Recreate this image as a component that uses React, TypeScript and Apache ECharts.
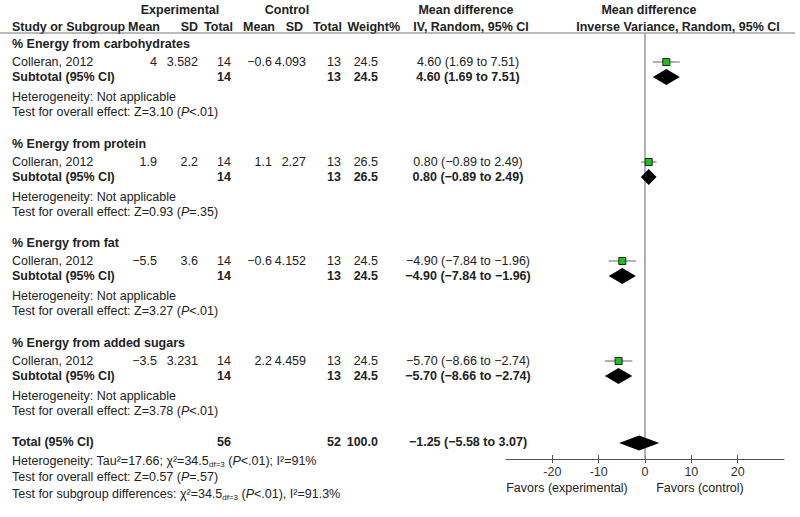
import React, { useEffect, useRef } from 'react';
import * as echarts from 'echarts';

// ---------- data ----------
const groupNames = [
  '% Energy from carbohydrates',
  '% Energy from protein',
  '% Energy from fat',
  '% Energy from added sugars',
];
const studyNames = ['Colleran, 2012', 'Colleran, 2012', 'Colleran, 2012', 'Colleran, 2012'];
const expMean = [4, 1.9, -5.5, -3.5];
const expSD = [3.582, 2.2, 3.6, 3.231];
const expN = [14, 14, 14, 14];
const ctlMean = [-0.6, 1.1, -0.6, 2.2];
const ctlSD = [4.093, 2.27, 4.152, 4.459];
const ctlN = [13, 13, 13, 13];
const weights = [24.5, 26.5, 24.5, 24.5];
const md = [4.6, 0.8, -4.9, -5.7];
const ciLow = [1.69, -0.89, -7.84, -8.66];
const ciHigh = [7.51, 2.49, -1.96, -2.74];
const zValues = [3.1, 0.93, 3.27, 3.78];
const pValues = ['<.01', '=.35', '<.01', '<.01'];

const totalExpN = 56;
const totalCtlN = 52;
const totalWeight = 100.0;
const totalMd = -1.25;
const totalLow = -5.58;
const totalHigh = 3.07;
const tau2 = 17.66;
const chi2 = 34.5;
const df = 3;
const hetP = '<.01';
const i2 = 91;
const totalZ = 0.57;
const totalP = '=.57';
const subChi2 = 34.5;
const subDf = 3;
const subP = '<.01';
const subI2 = 91.3;

const axisTicks = [-20, -10, 0, 10, 20];

// ---------- layout ----------
const FONT = '"Liberation Sans", Arial, sans-serif';
const FS = 12.5;
const COLOR = '#222';
const GROUP_Y = [44, 144, 243, 343];
const COL = {
  left: 12,
  expMean: 157,
  expSD: 198,
  expN: 231,
  ctlMean: 272,
  ctlSD: 306,
  ctlN: 341,
  weight: 378,
  ci: 468,
};

const fmtNum = (v: number) => String(v).replace('-', '−');
const fmtD = (v: number, d: number) => (v < 0 ? '−' : '') + Math.abs(v).toFixed(d);
const ciText = (m: number, l: number, h: number) => `${fmtD(m, 2)} (${fmtD(l, 2)} to ${fmtD(h, 2)})`;

const richStyles = {
  n: { fontFamily: FONT, fontSize: FS, fill: COLOR, lineHeight: 15 },
  i: { fontFamily: FONT, fontSize: FS, fill: COLOR, fontStyle: 'italic', lineHeight: 15 },
  s: { fontFamily: FONT, fontSize: 8, fill: COLOR, lineHeight: 9, verticalAlign: 'bottom' },
};

function txt(text: string, x: number, y: number, align = 'left', bold = false, rich = false): any {
  const style: any = {
    text,
    x,
    y,
    fill: COLOR,
    fontFamily: FONT,
    fontSize: FS,
    fontWeight: bold ? 'bold' : 'normal',
    align,
    verticalAlign: 'middle',
  };
  if (rich) style.rich = richStyles;
  return { type: 'text', silent: true, style };
}

function buildGraphics() {
  const g: any[] = [];
  // header
  g.push(txt('Experimental', 180, 10, 'center', true));
  g.push(txt('Control', 287, 10, 'center', true));
  g.push(txt('Mean difference', 466, 10, 'center', true));
  g.push(txt('Mean difference', 649, 10, 'center', true));
  g.push(txt('Study or Subgroup', COL.left, 27, 'left', true));
  g.push(txt('Mean', 160, 27, 'right', true));
  g.push(txt('SD', 198, 27, 'right', true));
  g.push(txt('Total', 233, 27, 'right', true));
  g.push(txt('Mean', 275, 27, 'right', true));
  g.push(txt('SD', 303, 27, 'right', true));
  g.push(txt('Total', 342, 27, 'right', true));
  g.push(txt('Weight%', 400, 27, 'right', true));
  g.push(txt('IV, Random, 95% CI', 471, 27, 'center', true));
  g.push(txt('Inverse Variance, Random, 95% CI', 678, 27, 'center', true));
  g.push({
    type: 'line',
    silent: true,
    shape: { x1: 0, y1: 33, x2: 795, y2: 33 },
    style: { stroke: '#777', lineWidth: 1 },
  });

  groupNames.forEach((name, i) => {
    const y0 = GROUP_Y[i];
    const ys = y0 + 18;
    const yt = y0 + 33;
    g.push(txt(name, COL.left, y0, 'left', true));
    g.push(txt(studyNames[i], COL.left, ys));
    g.push(txt(fmtNum(expMean[i]), COL.expMean, ys, 'right'));
    g.push(txt(fmtNum(expSD[i]), COL.expSD, ys, 'right'));
    g.push(txt(String(expN[i]), COL.expN, ys, 'right'));
    g.push(txt(fmtNum(ctlMean[i]), COL.ctlMean, ys, 'right'));
    g.push(txt(fmtNum(ctlSD[i]), COL.ctlSD, ys, 'right'));
    g.push(txt(String(ctlN[i]), COL.ctlN, ys, 'right'));
    g.push(txt(weights[i].toFixed(1), COL.weight, ys, 'right'));
    g.push(txt(ciText(md[i], ciLow[i], ciHigh[i]), COL.ci, ys, 'center'));

    g.push(txt('Subtotal (95% CI)', COL.left, yt, 'left', true));
    g.push(txt(String(expN[i]), COL.expN, yt, 'right', true));
    g.push(txt(String(ctlN[i]), COL.ctlN, yt, 'right', true));
    g.push(txt(weights[i].toFixed(1), COL.weight, yt, 'right', true));
    g.push(txt(ciText(md[i], ciLow[i], ciHigh[i]), COL.ci, yt, 'center', true));

    g.push(txt('Heterogeneity: Not applicable', COL.left, y0 + 53));
    g.push(
      txt(
        `{n|Test for overall effect: Z=${zValues[i].toFixed(2)} (}{i|P}{n|${pValues[i]})}`,
        COL.left,
        y0 + 68,
        'left',
        false,
        true
      )
    );
  });

  // total
  const yT = 442;
  g.push(txt('Total (95% CI)', COL.left, yT, 'left', true));
  g.push(txt(String(totalExpN), COL.expN, yT, 'right', true));
  g.push(txt(String(totalCtlN), COL.ctlN, yT, 'right', true));
  g.push(txt(totalWeight.toFixed(1), COL.weight, yT, 'right', true));
  g.push(txt(ciText(totalMd, totalLow, totalHigh), COL.ci, yT, 'center', true));
  g.push(
    txt(
      `{n|Heterogeneity: Tau²=${tau2.toFixed(2)}; χ²=${chi2}}{s|df=${df}}{n| (}{i|P}{n|${hetP}); I²=${i2}%}`,
      COL.left,
      461,
      'left',
      false,
      true
    )
  );
  g.push(
    txt(`{n|Test for overall effect: Z=${totalZ.toFixed(2)} (}{i|P}{n|${totalP})}`, COL.left, 477, 'left', false, true)
  );
  g.push(
    txt(
      `{n|Test for subgroup differences: χ²=${subChi2}}{s|df=${subDf}}{n| (}{i|P}{n|${subP}), I²=${subI2}%}`,
      COL.left,
      494,
      'left',
      false,
      true
    )
  );

  g.push(txt('Favors (experimental)', 567, 488, 'center'));
  g.push(txt('Favors (control)', 700, 488, 'center'));
  return g;
}

export default function App() {
  const ref = useRef<HTMLDivElement>(null);
  useEffect(() => {
    if (!ref.current) return;
    const chart = echarts.init(ref.current, null, { renderer: 'svg' });

    const studyData = groupNames.map((_, i) => [md[i], ciLow[i], ciHigh[i], GROUP_Y[i] + 18]);
    const diamondData = groupNames.map((_, i) => [md[i], ciLow[i], ciHigh[i], GROUP_Y[i] + 33, 8]);
    diamondData.push([totalMd, totalLow, totalHigh, 443, 7.5]);

    const option: any = {
      animation: false,
      backgroundColor: '#fff',
      grid: { left: 506, right: 16, top: 0, bottom: 58, containLabel: false },
      xAxis: [
        {
          type: 'value',
          min: -30,
          max: 30,
          interval: 10,
          position: 'bottom',
          splitLine: { show: false },
          axisLine: { show: true, onZero: false, lineStyle: { color: '#555', width: 1 } },
          axisTick: { show: true, inside: false, length: 4, customValues: axisTicks, lineStyle: { color: '#555' } },
          axisLabel: {
            customValues: axisTicks,
            margin: 6,
            color: '#333',
            fontSize: FS,
            fontFamily: FONT,
          },
        },
        {
          type: 'value',
          min: -30,
          max: 30,
          interval: 10,
          position: 'bottom',
          splitLine: { show: false },
          axisLine: { show: false, onZero: false },
          axisTick: { show: true, inside: true, length: 4, customValues: axisTicks, lineStyle: { color: '#555' } },
          axisLabel: { show: false },
        },
      ],
      yAxis: { type: 'value', min: 0, max: 459, inverse: true, show: false },
      graphic: buildGraphics(),
      series: [
        {
          type: 'line',
          silent: true,
          symbol: 'none',
          data: [
            [0, 33],
            [0, 459],
          ],
          lineStyle: { color: '#999', width: 1.5 },
          z: 1,
        },
        {
          type: 'custom',
          silent: true,
          encode: { x: [0, 1, 2], y: 3 },
          data: studyData,
          z: 3,
          renderItem: (params: any, api: any) => {
            const y = api.value(3);
            const m = api.coord([api.value(0), y]);
            const l = api.coord([api.value(1), y]);
            const h = api.coord([api.value(2), y]);
            return {
              type: 'group',
              children: [
                {
                  type: 'line',
                  shape: { x1: l[0], y1: l[1], x2: h[0], y2: h[1] },
                  style: { stroke: '#666', lineWidth: 1 },
                },
                {
                  type: 'rect',
                  shape: { x: m[0] - 3.5, y: m[1] - 3.5, width: 7, height: 7 },
                  style: { fill: '#19c419', stroke: '#222', lineWidth: 1 },
                },
              ],
            };
          },
        },
        {
          type: 'custom',
          silent: true,
          encode: { x: [0, 1, 2], y: 3 },
          data: diamondData,
          z: 3,
          renderItem: (params: any, api: any) => {
            const y = api.value(3);
            const hh = api.value(4);
            const m = api.coord([api.value(0), y]);
            const l = api.coord([api.value(1), y]);
            const h = api.coord([api.value(2), y]);
            return {
              type: 'polygon',
              shape: {
                points: [
                  [l[0], m[1]],
                  [m[0], m[1] - hh],
                  [h[0], m[1]],
                  [m[0], m[1] + hh],
                ],
              },
              style: { fill: '#000' },
            };
          },
        },
      ],
    };
    chart.setOption(option);
    return () => chart.dispose();
  }, []);

  return (
    <div
      ref={ref}
      style={{ position: 'fixed', left: 0, top: 0, width: 800, height: 517, background: '#fff' }}
    />
  );
}
